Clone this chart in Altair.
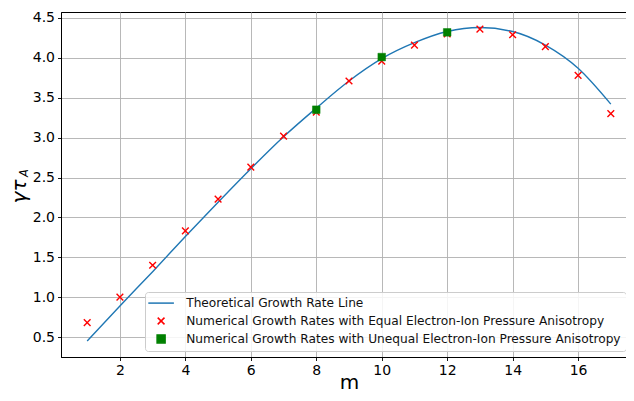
import altair as alt
import pandas as pd

# Theoretical growth rate line
theory_m = [1, 2, 3, 4, 5, 6, 7, 8, 9, 10, 11, 12, 13, 14, 15, 16, 17]
theory_g = [0.45, 0.89, 1.32, 1.76, 2.19, 2.61, 3.01, 3.37, 3.71, 3.99, 4.19, 4.33, 4.38, 4.33, 4.16, 3.87, 3.42]

# Numerical growth rates, equal electron-ion pressure anisotropy
equal_m = [1, 2, 3, 4, 5, 6, 7, 8, 9, 10, 11, 12, 13, 14, 15, 16, 17]
equal_g = [0.68, 1.00, 1.40, 1.83, 2.23, 2.63, 3.02, 3.32, 3.71, 3.96, 4.16, 4.30, 4.36, 4.29, 4.14, 3.78, 3.30]

# Numerical growth rates, unequal electron-ion pressure anisotropy
unequal_m = [8, 10, 12]
unequal_g = [3.35, 4.01, 4.32]

series_names = [
    "Theoretical Growth Rate Line",
    "Numerical Growth Rates with Equal Electron-Ion Pressure Anisotropy",
    "Numerical Growth Rates with Unequal Electron-Ion Pressure Anisotropy",
]

x_ticks = [2, 4, 6, 8, 10, 12, 14, 16]
y_ticks = [0.5, 1.0, 1.5, 2.0, 2.5, 3.0, 3.5, 4.0, 4.5]

df_t = pd.DataFrame({"m": theory_m, "g": theory_g, "s": series_names[0]})
df_e = pd.DataFrame({"m": equal_m, "g": equal_g, "s": series_names[1]})
df_u = pd.DataFrame({"m": unequal_m, "g": unequal_g, "s": series_names[2]})

X_PATH = "M-0.85,-0.85L0.85,0.85M-0.85,0.85L0.85,-0.85"
LINE_PATH = "M-3.2,0L3.2,0"

xs = alt.X("m:Q", scale=alt.Scale(domain=[0.2, 17.8], nice=False, zero=False),
           axis=alt.Axis(values=x_ticks, title="m", titleY=31, titleBaseline="alphabetic"))
ys = alt.Y("g:Q", scale=alt.Scale(domain=[0.25, 4.575], nice=False, zero=False),
           axis=alt.Axis(values=y_ticks, format=".1f", title="γτ",
                         titleX=-42, titleY=179, titleAlign="center", titleBaseline="middle"))

legend = alt.Legend(
    title=None, orient="none", legendX=84, legendY=280,
    labelFontSize=12.2, labelFont="DejaVu Sans", labelColor="#111",
    fillColor="rgba(255,255,255,0.85)", strokeColor="#cccccc",
    padding=5, cornerRadius=3, rowPadding=3.9, symbolStrokeWidth=1.5,
    symbolSize=64, labelLimit=600, symbolOffset=5, labelOffset=19,
)

stroke_enc = alt.Stroke("s:N", scale=alt.Scale(domain=series_names, range=["#1f77b4", "red", "green"]), legend=legend)
fill_enc = alt.Fill("s:N", scale=alt.Scale(domain=series_names, range=["transparent", "transparent", "green"]), legend=legend)
shape_enc = alt.Shape("s:N", scale=alt.Scale(domain=series_names, range=[LINE_PATH, X_PATH, "square"]), legend=legend)

line = alt.Chart(df_t).mark_line(strokeWidth=1.4, interpolate="monotone").encode(
    x=xs, y=ys, stroke=stroke_enc
)
crosses = alt.Chart(df_e).mark_point(filled=False, size=62, strokeWidth=1.4, opacity=1).encode(
    x=xs, y=ys, stroke=stroke_enc, fill=fill_enc, shape=shape_enc
)
squares = alt.Chart(df_u).mark_point(filled=True, size=58, opacity=1, strokeWidth=0.5).encode(
    x=xs, y=ys, stroke=stroke_enc, fill=fill_enc, shape=shape_enc
)

sub = alt.Chart(pd.DataFrame({"t": ["A"]})).mark_text(
    text="A", font="DejaVu Sans", fontStyle="italic", fontSize=11.5, angle=270, color="black",
    align="center", baseline="middle"
).encode(x=alt.value(-36.5), y=alt.value(161))

chart = alt.layer(line, crosses, squares, sub).properties(
    width=576, height=345,
    padding={"left": 53, "top": 4, "right": -11, "bottom": 36},
    autosize=alt.AutoSizeParams(type="none"),
).configure_view(
    stroke="black", strokeWidth=1
).configure_axis(
    grid=True, gridColor="#b0b0b0", gridWidth=0.9, labelFont="DejaVu Sans", labelFontSize=14,
    labelColor="black", tickColor="black", tickSize=3.5, tickWidth=0.9,
    domainColor="black", domainWidth=1,
    titleFont="DejaVu Sans", titleFontWeight="normal", titleColor="black", labelPadding=3,
).configure_axisX(
    titleFontSize=20,
).configure_axisY(
    titleFontSize=20, titleFontStyle="italic",
)

chart.save("out.html", embed_options={"renderer": "svg", "actions": False})
